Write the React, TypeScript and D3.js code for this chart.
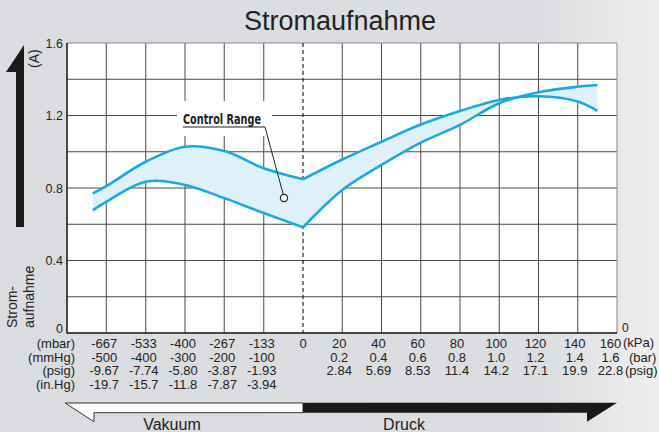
import React from 'react';
import * as d3 from 'd3';

// pressure in mbar, current in A
const leftX = [-712, -667, -533, -400, -267, -133, 0];
const leftUpper = [0.77, 0.81, 0.945, 1.028, 1.004, 0.909, 0.848];
const leftLower = [0.678, 0.724, 0.835, 0.817, 0.744, 0.662, 0.583];
const rightX = [0, 200, 400, 600, 800, 1000, 1200, 1400, 1500];
const rightUpper = [0.848, 0.957, 1.055, 1.15, 1.225, 1.286, 1.306, 1.277, 1.225];
const rightLower = [0.583, 0.789, 0.927, 1.05, 1.148, 1.268, 1.328, 1.359, 1.368];

const yTicks = [0.4, 0.8, 1.2, 1.6];
const yGrid = [0.2, 0.4, 0.6, 0.8, 1.0, 1.2, 1.4];

const mbarTicks = [-667, -533, -400, -267, -133];
const mmHgLabels = ['-500', '-400', '-300', '-200', '-100'];
const psigVacLabels = ['-9.67', '-7.74', '-5.80', '-3.87', '-1.93'];
const inHgLabels = ['-19.7', '-15.7', '-11.8', '-7.87', '-3.94'];

const kPaTicks = [20, 40, 60, 80, 100, 120, 140, 160];
const barLabels = ['0.2', '0.4', '0.6', '0.8', '1.0', '1.2', '1.4', '1.6'];
const psigLabels = ['2.84', '5.69', '8.53', '11.4', '14.2', '17.1', '19.9', '22.8'];

const vacRowLabels = ['(mbar)', '(mmHg)', '(psig)', '(in.Hg)'];

const FONT = "'Liberation Sans', Arial, Helvetica, sans-serif";
const BLUE = '#19a8e2';

const App = () => {
  const svgRef = React.useRef<SVGSVGElement>(null);

  React.useEffect(() => {
    const svg = d3.select(svgRef.current);
    svg.selectAll('*').remove();

    const left = 67, right = 617, top = 43, bottom = 333;

    const x = d3.scaleLinear().domain([-800, 0, 1600]).range([left, 303, right]);
    const y = d3.scaleLinear().domain([0, 1.6]).range([bottom, top]);

    // background
    const defs = svg.append('defs');
    const grad = defs.append('linearGradient').attr('id', 'bg').attr('x1', 0).attr('x2', 1).attr('y1', 0).attr('y2', 0);
    grad.append('stop').attr('offset', '0').attr('stop-color', '#dbdcdf');
    grad.append('stop').attr('offset', '0.82').attr('stop-color', '#dcdde0');
    grad.append('stop').attr('offset', '0.95').attr('stop-color', '#eaeaeb');
    grad.append('stop').attr('offset', '1').attr('stop-color', '#ededed');
    svg.append('rect').attr('width', 659).attr('height', 432).attr('fill', 'url(#bg)');

    // title
    svg.append('text')
      .attr('x', 340).attr('y', 30)
      .attr('text-anchor', 'middle')
      .style('font-family', FONT).style('font-size', '27px').attr('fill', '#222')
      .text('Stromaufnahme');

    // plot area
    svg.append('rect')
      .attr('x', left).attr('y', top).attr('width', right - left).attr('height', bottom - top)
      .attr('fill', '#fff');

    const grid = svg.append('g').attr('stroke', '#4a4a4a').attr('stroke-width', 1);
    const vLines = [-667, -533, -400, -267, -133].concat(kPaTicks.slice(0, -1).map(k => k * 10));
    vLines.forEach(v => {
      grid.append('line').attr('x1', x(v)).attr('x2', x(v)).attr('y1', top).attr('y2', bottom);
    });
    yGrid.forEach(v => {
      grid.append('line').attr('x1', left).attr('x2', right).attr('y1', y(v)).attr('y2', y(v));
    });
    // borders
    svg.append('line').attr('x1', left).attr('x2', right).attr('y1', top).attr('y2', top).attr('stroke', '#888');
    svg.append('line').attr('x1', right).attr('x2', right).attr('y1', top).attr('y2', bottom).attr('stroke', '#888');
    // zero line
    svg.append('line')
      .attr('x1', x(0)).attr('x2', x(0)).attr('y1', top).attr('y2', bottom)
      .attr('stroke', '#222').attr('stroke-width', 1.2).attr('stroke-dasharray', '4,3');

    // label box gap
    svg.append('rect').attr('x', 177).attr('y', 101).attr('width', 95).attr('height', 35).attr('fill', '#fff');

    // axes
    svg.append('line').attr('x1', left).attr('x2', left).attr('y1', top).attr('y2', bottom + 0.5).attr('stroke', '#111').attr('stroke-width', 1.5);
    svg.append('line').attr('x1', left).attr('x2', right).attr('y1', bottom).attr('y2', bottom).attr('stroke', '#111').attr('stroke-width', 1.5);

    // curves
    const drawBand = (xs: number[], up: number[], lo: number[]) => {
      const idx = d3.range(xs.length);
      const area = d3.area<number>()
        .x(i => x(xs[i])).y0(i => y(lo[i])).y1(i => y(up[i]))
        .curve(d3.curveCatmullRom.alpha(0.5));
      svg.append('path').attr('d', area(idx)).attr('fill', '#def1fb');
      const line = (vals: number[]) => d3.line<number>()
        .x(i => x(xs[i])).y(i => y(vals[i]))
        .curve(d3.curveCatmullRom.alpha(0.5))(idx);
      [up, lo].forEach(vals => {
        svg.append('path').attr('d', line(vals)).attr('fill', 'none')
          .attr('stroke', BLUE).attr('stroke-width', 2.6).attr('stroke-linejoin', 'round');
      });
    };
    drawBand(leftX, leftUpper, leftLower);
    drawBand(rightX, rightUpper, rightLower);

    // control range annotation
    svg.append('text')
      .attr('x', 183).attr('y', 124)
      .attr('textLength', 78).attr('lengthAdjust', 'spacingAndGlyphs')
      .style('font-family', "'Liberation Sans Narrow', 'Arial Narrow', 'DejaVu Sans Condensed', sans-serif")
      .style('font-size', '14px').style('font-weight', 'bold').attr('fill', '#222')
      .text('Control Range');
    svg.append('polyline')
      .attr('points', '183,127 265,127 283.3,194.6')
      .attr('fill', 'none').attr('stroke', '#222').attr('stroke-width', 1);
    svg.append('circle').attr('cx', 284).attr('cy', 198).attr('r', 3.6)
      .attr('fill', '#fff').attr('stroke', '#222').attr('stroke-width', 1.2);

    const txt = (g: any, s: string, tx: number, ty: number, anchor = 'middle', size = 13) =>
      g.append('text').attr('x', tx).attr('y', ty).attr('text-anchor', anchor)
        .style('font-family', FONT).style('font-size', `${size}px`).attr('fill', '#222').text(s);

    // y ticks
    yTicks.forEach(v => txt(svg, String(v.toFixed(1)), 63, y(v) + 4.5, 'end', 12.5));
    txt(svg, '0', 63, 332.5, 'end', 12.5);
    txt(svg, '0', 622, 332, 'start', 12);

    // y title
    const yTitle = (s: string, tx: number, ty: number, size: number) =>
      svg.append('text')
        .attr('transform', `translate(${tx},${ty}) rotate(-90)`)
        .style('font-family', FONT).style('font-size', `${size}px`).attr('fill', '#222').text(s);
    yTitle('Strom-', 17, 328, 14);
    yTitle('aufnahme', 33.5, 328, 14);
    yTitle('(A)', 39, 68, 14);

    // big arrow
    svg.append('path')
      .attr('d', 'M24,45 L24,227 L16,227 L16,72 L6,72 Z')
      .attr('fill', '#1a1a1a');

    // x labels
    const rowsY = [348, 361.5, 375, 388.5];
    vacRowLabels.forEach((s, i) => txt(svg, s, 75, rowsY[i], 'end'));
    mbarTicks.forEach((v, i) => {
      const cx = x(v) - 2;
      txt(svg, String(v), cx, rowsY[0]);
      txt(svg, mmHgLabels[i], cx, rowsY[1]);
      txt(svg, psigVacLabels[i], cx, rowsY[2]);
      txt(svg, inHgLabels[i], cx, rowsY[3]);
    });
    txt(svg, '0', x(0), rowsY[0]);
    kPaTicks.forEach((k, i) => {
      const cx = x(k * 10) - (i === kPaTicks.length - 1 ? 6.5 : 3);
      txt(svg, String(k), cx, rowsY[0]);
      txt(svg, barLabels[i], cx, rowsY[1]);
      txt(svg, psigLabels[i], cx, rowsY[2]);
    });
    txt(svg, '(kPa)', 623, rowsY[0] - 1.5, 'start');
    txt(svg, '(bar)', 629, rowsY[1], 'start');
    txt(svg, '(psig)', 625, rowsY[2], 'start');

    // direction band
    svg.append('path')
      .attr('d', `M65,403 L${x(0)},403 L${x(0)},412.7 L94,412.7 L94,421.7 Z`)
      .attr('fill', '#fff').attr('stroke', '#333').attr('stroke-width', 1);
    svg.append('path')
      .attr('d', `M${x(0)},402.7 L617,402.7 L587,421.7 L587,412.7 L${x(0)},412.7 Z`)
      .attr('fill', '#1a1a1a');
    txt(svg, 'Vakuum', 172, 430, 'middle', 16);
    txt(svg, 'Druck', 404, 430, 'middle', 16);
  }, []);

  return (
    <svg ref={svgRef} width={659} height={432}
      style={{ position: 'absolute', left: 0, top: 0, display: 'block' }} />
  );
};

export default App;
